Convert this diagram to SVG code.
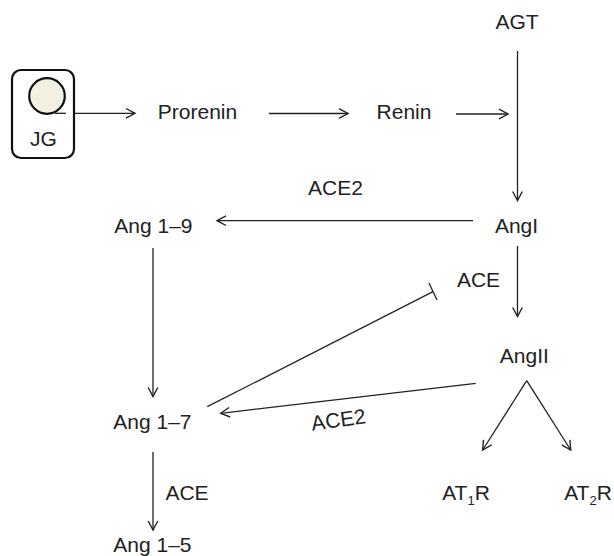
<svg xmlns="http://www.w3.org/2000/svg" width="614" height="556" viewBox="0 0 614 556">
<style>
text{font-family:"Liberation Sans",Arial,sans-serif;font-size:21px;fill:#222;text-anchor:middle}
.c{stroke:#222;stroke-width:1.3;fill:none}
</style>
<defs>
<marker id="ah" markerUnits="userSpaceOnUse" markerWidth="14" markerHeight="14" viewBox="-10 -7 12 14" refX="0" refY="0" orient="auto">
<path d="M-9,-4.8 L0,0 L-9,4.8" fill="none" stroke="#222" stroke-width="1.4"/>
</marker>
</defs>
<rect width="614" height="556" fill="#fff"/>
<g id="connectors">
<line class="c" x1="55" y1="113.3" x2="135" y2="113.3" marker-end="url(#ah)"/>
<line class="c" x1="269" y1="113.5" x2="348" y2="113.5" marker-end="url(#ah)"/>
<line class="c" x1="456" y1="114" x2="508" y2="114" marker-end="url(#ah)"/>
<line class="c" x1="517.5" y1="51" x2="517.5" y2="200.5" marker-end="url(#ah)"/>
<line class="c" x1="473" y1="220.7" x2="217" y2="220.7" marker-end="url(#ah)"/>
<line class="c" x1="517.5" y1="246" x2="517.5" y2="316.5" marker-end="url(#ah)"/>
<line class="c" x1="153" y1="248" x2="153" y2="396.5" marker-end="url(#ah)"/>
<line class="c" x1="207.3" y1="406.7" x2="433" y2="291.7"/>
<line class="c" x1="429" y1="283" x2="437" y2="300"/>
<line class="c" x1="475.7" y1="383.3" x2="220.7" y2="413.3" marker-end="url(#ah)"/>
<line class="c" x1="526.7" y1="380.7" x2="482.7" y2="450" marker-end="url(#ah)"/>
<line class="c" x1="526.7" y1="380.7" x2="570.7" y2="450" marker-end="url(#ah)"/>
<line class="c" x1="153" y1="452" x2="153" y2="530" marker-end="url(#ah)"/>
</g>
<g id="JG">
<rect x="12" y="70" width="62" height="88" rx="9" fill="#fff" stroke="#111" stroke-width="2.2"/>
<circle cx="47" cy="96" r="17.8" fill="#f3f0e2" stroke="#111" stroke-width="2.2"/>
<line class="c" x1="55" y1="113.3" x2="66" y2="113.3"/>
<text x="43.5" y="145.7">JG</text>
</g>
<g id="Prorenin"><text x="197.5" y="118.5">Prorenin</text></g>
<g id="Renin"><text x="404" y="118.5">Renin</text></g>
<g id="AGT"><text x="517" y="29">AGT</text></g>
<g id="AngI"><text x="516.5" y="233">AngI</text></g>
<g id="Ang1-9"><text x="153.4" y="232.7">Ang 1–9</text></g>
<g id="AngII"><text x="524.3" y="363">AngII</text></g>
<g id="Ang1-7"><text x="152.4" y="429">Ang 1–7</text></g>
<g id="Ang1-5"><text x="152.4" y="552">Ang 1–5</text></g>
<g id="AT1R"><text x="466" y="499.5">AT<tspan font-size="13" dy="5">1</tspan><tspan dy="-5">R</tspan></text></g>
<g id="AT2R"><text x="588" y="499.5">AT<tspan font-size="13" dy="5">2</tspan><tspan dy="-5">R</tspan></text></g>
<g id="labels">
<text x="335.5" y="195">ACE2</text>
<text x="478.5" y="287">ACE</text>
<text x="187" y="500">ACE</text>
<text x="339.5" y="427" transform="rotate(-8 339.5 427)">ACE2</text>
</g>
</svg>
